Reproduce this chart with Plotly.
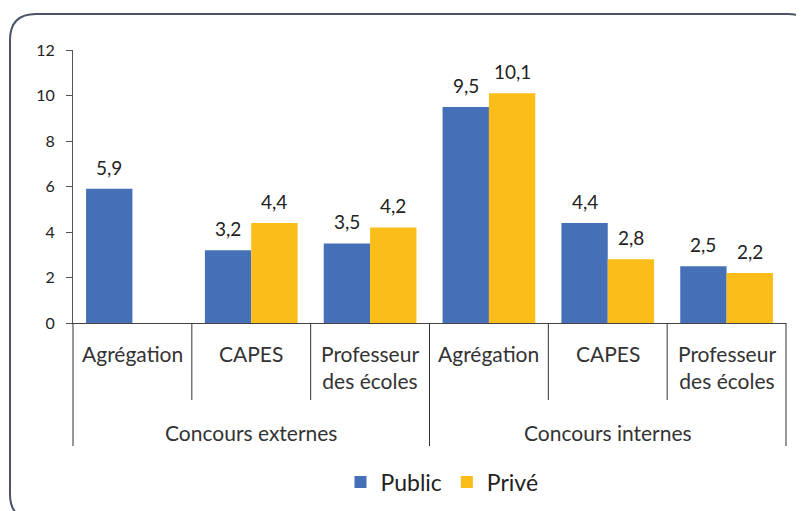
import plotly.graph_objects as go

groups = ["Concours externes"] * 3 + ["Concours internes"] * 3
concours = ["Agrégation", "CAPES", "Professeur<br>des écoles"] * 2
public = [5.9, 3.2, 3.5, 9.5, 4.4, 2.5]
prive = [None, 4.4, 4.2, 10.1, 2.8, 2.2]
y_ticks = [0, 2, 4, 6, 8, 10, 12]

BLUE = "#4570B8"
YELLOW = "#FBBD17"
FONT = "Lato"
O = 8  # page body margin offset
W, H = 804 - O, 511 - O
# target plot area in page pixels: x 73..786, y 50..323
ML, MR, MT, MB = 73 - O, 804 - 786, 50 - O, 511 - 323
PW, PH = W - ML - MR, H - MT - MB
BARGAP = 0.22

fig = go.Figure()
series = [("Public", public, BLUE), ("Privé", prive, YELLOW)]
for name, vals, col in series:
    fig.add_trace(go.Bar(
        x=[groups, concours], y=vals, name=name, marker_color=col,
        marker_line_width=0, cliponaxis=False,
    ))

# value labels above each bar
n = len(concours)
bw = PW / n * (1 - BARGAP) / len(series)
for s, (name, vals, col) in enumerate(series):
    for i, v in enumerate(vals):
        if v is None:
            continue
        fig.add_annotation(xref="x", yref="y", x=i, y=v, showarrow=False,
                           xshift=(s - (len(series) - 1) / 2) * bw,
                           yanchor="bottom", yshift=8,
                           text=f"{v:.1f}".replace(".", ","),
                           font=dict(family=FONT, size=19, color="#222"))


def P(x, y):
    a = (x - O - ML) / PW
    b = (H + O - MB - y) / PH
    return f"{a:.5f},{b:.5f}"


def py2paper(y):
    return (H + O - MB - y) / PH


# rounded frame
x0, y0, x1, y1, r = 10, 14, 814, 520, 26
path = (f"M {P(x0, y0 + r)} Q {P(x0, y0)} {P(x0 + r, y0)} L {P(x1 - r, y0)} "
        f"Q {P(x1, y0)} {P(x1, y0 + r)} L {P(x1, y1 - r)} Q {P(x1, y1)} {P(x1 - r, y1)} "
        f"L {P(x0 + r, y1)} Q {P(x0, y1)} {P(x0, y1 - r)} Z")
fig.add_shape(type="path", path=path, xref="paper", yref="paper",
              line=dict(color="#4B5567", width=2), layer="below")

# category separators and labels
inner_bottom = py2paper(400)
outer_bottom = py2paper(446)
inner_y = py2paper(339)
outer_y = py2paper(432)
for k in range(n + 1):
    is_outer = k == 0 or k == n or groups[k - 1] != groups[min(k, n - 1)]
    fig.add_shape(type="line", xref="paper", yref="paper",
                  x0=k / n, x1=k / n, y0=0,
                  y1=outer_bottom if is_outer else inner_bottom,
                  line=dict(color="#333", width=1))
for i, lab in enumerate(concours):
    fig.add_annotation(xref="paper", yref="paper", x=(i + 0.5) / n, y=inner_y,
                       text=lab, showarrow=False, xanchor="center", yanchor="top",
                       font=dict(family=FONT, size=21, color="#333"))
seen = []
for g in groups:
    if g not in seen:
        seen.append(g)
for g in seen:
    idx = [i for i, gg in enumerate(groups) if gg == g]
    cx = (idx[0] + idx[-1] + 1) / 2 / n
    fig.add_annotation(xref="paper", yref="paper", x=cx, y=outer_y,
                       text=g, showarrow=False, xanchor="center", yanchor="middle",
                       font=dict(family=FONT, size=21, color="#333"))

fig.update_layout(
    width=W, height=H, margin=dict(l=ML, r=MR, t=MT, b=MB, autoexpand=False),
    paper_bgcolor="white", plot_bgcolor="white",
    barmode="group", bargap=BARGAP, bargroupgap=0,
    font=dict(family=FONT, color="#333"),
    showlegend=True,
    legend=dict(orientation="h", x=(442 - O - ML) / PW, xanchor="center",
                y=py2paper(482), yanchor="middle",
                font=dict(family=FONT, size=23, color="#222")),
    xaxis=dict(type="multicategory", showline=True, linecolor="#444", linewidth=1,
               showticklabels=False, ticks="", showdividers=False,
               automargin=False, showgrid=False),
    yaxis=dict(range=[0, 12], tickvals=y_ticks, showline=True, linecolor="#555",
               ticks="outside", ticklen=6, tickcolor="#555", showgrid=False,
               automargin=False, ticklabelstandoff=8,
               zeroline=False, tickfont=dict(family=FONT, size=16, color="#222")),
)
fig.write_html("out.html")
